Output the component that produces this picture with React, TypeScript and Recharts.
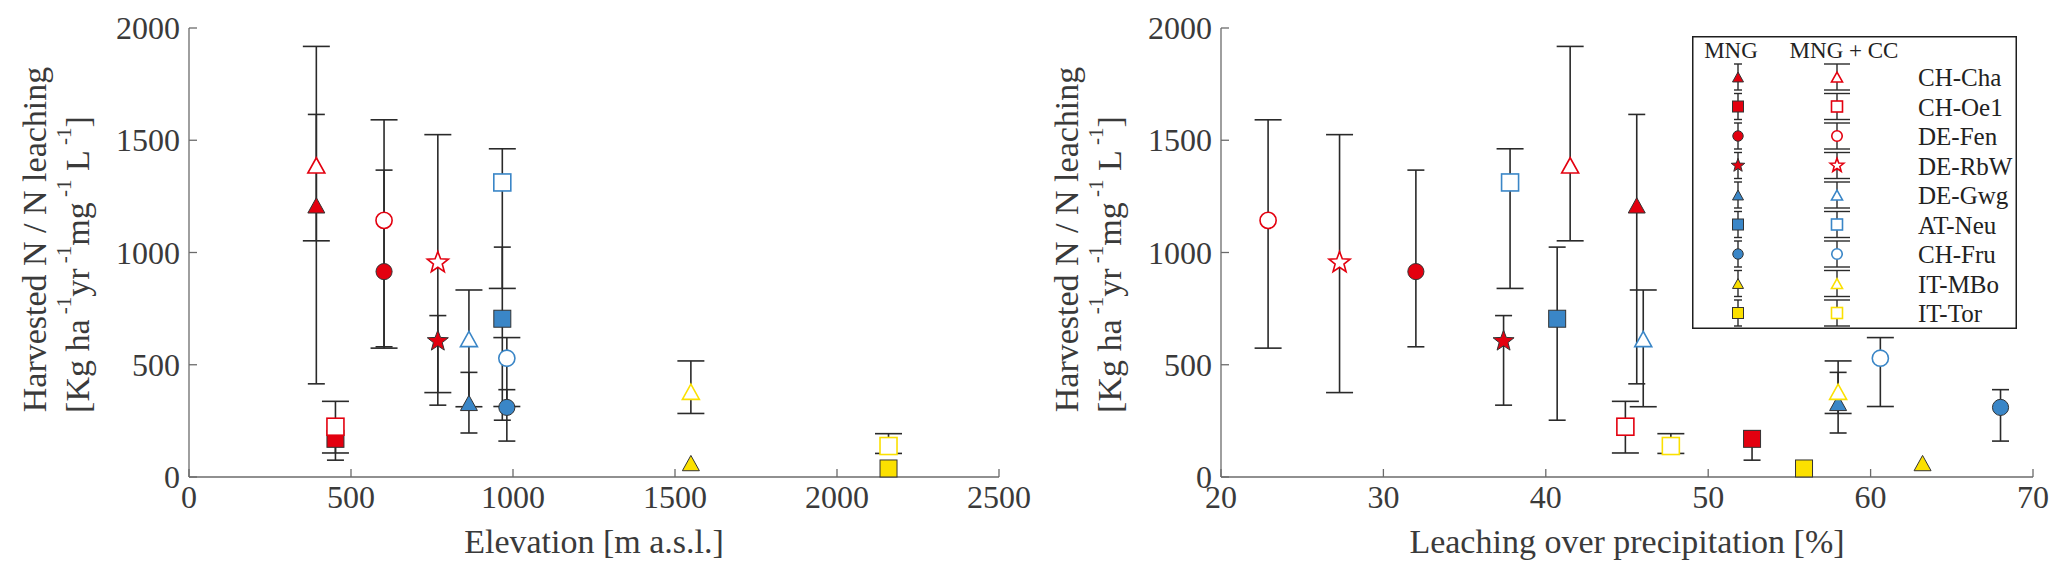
import React from 'react';
import { ScatterChart, Scatter, XAxis, YAxis, ErrorBar, Label, Legend } from 'recharts';

// sites, in legend order
const sites = ['CH-Cha', 'CH-Oe1', 'DE-Fen', 'DE-RbW', 'DE-Gwg', 'AT-Neu', 'CH-Fru', 'IT-MBo', 'IT-Tor'];

// elevation [m a.s.l.]
const elevation = [393, 452, 602, 768, 864, 967, 981, 1549, 2159];

// leaching over precipitation [%]
const leachMng = [45.6, 52.7, 32.0, 37.4, 58.0, 40.7, 68.0, 63.2, 55.9];
const leachCc = [41.5, 44.9, 22.9, 27.3, 46.0, 37.8, 60.6, 58.0, 47.7];

// harvested N / N leaching, with error bar ends
const ratioMng = [1210, 170, 915, 605, 330, 705, 310, 62, 38];
const ratioMngLow = [415, 75, 580, 320, 196, 253, 160, null, null];
const ratioMngHigh = [1615, 205, 1367, 719, 466, 1024, 389, null, null];
const ratioCc = [1388, 224, 1143, 955, 615, 1312, 529, 380, 138];
const ratioCcLow = [1052, 107, 574, 376, 313, 840, 314, 283, 105];
const ratioCcHigh = [1918, 337, 1591, 1525, 833, 1462, 621, 517, 193];

const elevationTicks = [0, 500, 1000, 1500, 2000, 2500];
const leachTicks = [20, 30, 40, 50, 60, 70];
const ratioTicks = [0, 500, 1000, 1500, 2000];

const RED = '#e3000f';
const BLUE = '#3a86c7';
const YELLOW = '#fbe000';
const siteShape = ['triangle', 'square', 'circle', 'star', 'triangle', 'square', 'circle', 'triangle', 'square'];
const siteColor = [RED, RED, RED, RED, BLUE, BLUE, BLUE, YELLOW, YELLOW];

const FONT = '"Liberation Serif", "Times New Roman", serif';
const TEXT = '#3a3a3a';
const AXIS = '#6b6b6b';
const BAR = '#2a2a2a';

const toPoints = (xs: number[], ys: number[], lo: (number | null)[], hi: (number | null)[]) =>
  sites.map((site, i) => ({
    site,
    idx: i,
    x: xs[i],
    y: ys[i],
    err: lo[i] == null ? null : [ys[i] - (lo[i] as number), (hi[i] as number) - ys[i]],
  }));

function Marker({ kind, cx, cy, r, color, filled }: any) {
  const fill = filled ? color : '#fff';
  const stroke = filled ? '#333' : color;
  const sw = filled ? 1 : 1.6;
  if (kind === 'circle') return <circle cx={cx} cy={cy} r={r * 0.95} fill={fill} stroke={stroke} strokeWidth={sw} />;
  if (kind === 'square')
    return <rect x={cx - r} y={cy - r} width={2 * r} height={2 * r} fill={fill} stroke={stroke} strokeWidth={sw} />;
  if (kind === 'triangle') {
    const h = r * 0.9;
    return (
      <path d={`M${cx},${cy - h}L${cx + r},${cy + h}L${cx - r},${cy + h}Z`} fill={fill} stroke={stroke} strokeWidth={sw} />
    );
  }
  const R = r * 1.3;
  const pts = [];
  for (let k = 0; k < 10; k++) {
    const a = ((-90 + k * 36) * Math.PI) / 180;
    const rr = k % 2 === 0 ? R : R * 0.42;
    pts.push(`${cx + rr * Math.cos(a)},${cy + rr * Math.sin(a)}`);
  }
  return <polygon points={pts.join(' ')} fill={fill} stroke={stroke} strokeWidth={sw} />;
}

const BottomTick = ({ x, y, payload }: any) => (
  <g>
    <line x1={x} y1={y} x2={x} y2={y - 8} stroke={AXIS} strokeWidth={1.3} />
    <text x={x} y={y + 31} textAnchor="middle" fontSize={32} fontFamily={FONT} fill={TEXT}>
      {payload.value}
    </text>
  </g>
);
const LeftTick = ({ x, y, payload }: any) => (
  <g>
    <line x1={x} y1={y} x2={x + 8} y2={y} stroke={AXIS} strokeWidth={1.3} />
    <text x={x - 9} y={y + 11} textAnchor="end" fontSize={32} fontFamily={FONT} fill={TEXT}>
      {payload.value}
    </text>
  </g>
);
const TopTick = ({ x, y }: any) => <line x1={x} y1={y} x2={x} y2={y + 8} stroke={AXIS} strokeWidth={1.3} />;
const RightTick = ({ x, y }: any) => <line x1={x} y1={y} x2={x - 8} y2={y} stroke={AXIS} strokeWidth={1.3} />;

const YTitle = ({ viewBox }: any) => {
  const ax = viewBox ? viewBox.x + viewBox.width : 189;
  const cy = viewBox ? viewBox.y + viewBox.height / 2 : 252;
  const x1 = ax - 155;
  const y1 = cy - 13;
  const x2 = ax - 112;
  const y2 = cy + 12;
  const sup = (s: string) => [
    <tspan key={s + 'a'} dy={-13} fontSize={21}>
      {s}
    </tspan>,
  ];
  return (
    <g fontFamily={FONT} fill={TEXT}>
      <text x={x1} y={y1} textAnchor="middle" dominantBaseline="central" fontSize={34} transform={`rotate(-90 ${x1} ${y1})`}>
        Harvested N / N leaching
      </text>
      <text x={x2} y={y2} textAnchor="middle" dominantBaseline="central" fontSize={34} transform={`rotate(-90 ${x2} ${y2})`}>
        <tspan>[Kg ha</tspan>
        <tspan dy={-13} fontSize={21}> -1</tspan>
        <tspan dy={13}>yr</tspan>
        <tspan dy={-13} fontSize={21}> -1</tspan>
        <tspan dy={13}>mg</tspan>
        <tspan dy={-13} fontSize={21}> -1</tspan>
        <tspan dy={13}> L</tspan>
        <tspan dy={-13} fontSize={21}> -1</tspan>
        <tspan dy={13}>]</tspan>
      </text>
    </g>
  );
};

const legendBar = (x: number, cy: number, half: number) => (
  <g stroke={BAR} strokeWidth={1.4}>
    <line x1={x} y1={cy - 13} x2={x} y2={cy + 13} />
    <line x1={x - half} y1={cy - 13} x2={x + half} y2={cy - 13} />
    <line x1={x - half} y1={cy + 13} x2={x + half} y2={cy + 13} />
  </g>
);

const LegendBox = () => (
  <svg width={325} height={293} style={{ display: 'block' }}>
    <rect x={0.75} y={0.75} width={323.5} height={291.5} fill="#fff" stroke="#1e1e1e" strokeWidth={1.5} />
    <g fontFamily={FONT} fill="#222">
      <text x={39} y={22} fontSize={23} textAnchor="middle">
        MNG
      </text>
      <text x={152} y={22} fontSize={23} textAnchor="middle">
        MNG + CC
      </text>
      {sites.map((s, i) => {
        const cy = 41 + i * 29.5;
        return (
          <g key={s}>
            {legendBar(46, cy, 4)}
            <Marker kind={siteShape[i]} cx={46} cy={cy} r={5.5} color={siteColor[i]} filled />
            {legendBar(145, cy, 13)}
            <Marker kind={siteShape[i]} cx={145} cy={cy} r={5.5} color={siteColor[i]} filled={false} />
            <text x={226} y={cy + 9} fontSize={25}>
              {s}
            </text>
          </g>
        );
      })}
    </g>
  </svg>
);

function Panel({ width, xMng, xCc, domain, ticks, xTitle, tag, legend }: any) {
  const mng = toPoints(xMng, ratioMng, ratioMngLow, ratioMngHigh);
  const cc = toPoints(xCc, ratioCc, ratioCcLow, ratioCcHigh);
  const shapeFor = (filled: boolean) => (p: any) =>
    <Marker kind={siteShape[p.payload.idx]} cx={p.cx} cy={p.cy} r={8.5} color={siteColor[p.payload.idx]} filled={filled} />;
  const empty = () => <g />;
  return (
    <ScatterChart width={width} height={578} margin={{ top: 28, right: width - 999 - (width - 1033), bottom: 41, left: 109 }}>
      <XAxis
        type="number"
        dataKey="x"
        domain={domain}
        ticks={ticks}
        interval={0}
        height={60}
        tickSize={0}
        tickMargin={0}
        tickLine={false}
        axisLine={{ stroke: AXIS, strokeWidth: 1.3 }}
        tick={(p: any) => <BottomTick {...p} />}
      >
        <Label
          content={({ viewBox }: any) => {
            const cx = viewBox ? viewBox.x + viewBox.width / 2 : 594;
            const y = viewBox ? viewBox.y : 477;
            return (
              <text x={cx} y={y + 76} textAnchor="middle" fontSize={34} fontFamily={FONT} fill={TEXT}>
                {xTitle}
              </text>
            );
          }}
        />
      </XAxis>
      <XAxis
        xAxisId="top"
        orientation="top"
        type="number"
        domain={domain}
        ticks={ticks}
        interval={0}
        allowDataOverflow
        height={0}
        tickSize={0}
        tickMargin={0}
        tickLine={false}
        axisLine={{ stroke: AXIS, strokeWidth: 1.3 }}
        tick={(p: any) => <TopTick {...p} />}
      >
        <Label
          content={({ viewBox }: any) => {
            const x = viewBox ? viewBox.x : 189;
            const y = viewBox ? viewBox.y : 28;
            return (
              <text x={x + 11} y={y + 40} fontSize={32} fontFamily={FONT} fill="#222">
                {tag}
              </text>
            );
          }}
        />
      </XAxis>
      <YAxis
        type="number"
        dataKey="y"
        domain={[0, 2000]}
        ticks={ratioTicks}
        interval={0}
        width={80}
        tickSize={0}
        tickMargin={0}
        tickLine={false}
        axisLine={{ stroke: AXIS, strokeWidth: 1.3 }}
        tick={(p: any) => <LeftTick {...p} />}
      >
        <Label content={(p: any) => <YTitle viewBox={p.viewBox} />} />
      </YAxis>
      <YAxis
        yAxisId="right"
        orientation="right"
        type="number"
        domain={[0, 2000]}
        ticks={ratioTicks}
        interval={0}
        allowDataOverflow
        width={0}
        tickSize={0}
        tickMargin={0}
        tickLine={false}
        axisLine={{ stroke: AXIS, strokeWidth: 1.3 }}
        tick={(p: any) => <RightTick {...p} />}
      />
      <Scatter data={mng} dataKey="y" shape={empty} legendType="none" isAnimationActive={false}>
        <ErrorBar dataKey="err" direction="y" width={8.5} stroke={BAR} strokeWidth={1.6} isAnimationActive={false} />
      </Scatter>
      <Scatter data={cc} dataKey="y" shape={empty} legendType="none" isAnimationActive={false}>
        <ErrorBar dataKey="err" direction="y" width={13.5} stroke={BAR} strokeWidth={1.6} isAnimationActive={false} />
      </Scatter>
      <Scatter name="MNG" data={mng} dataKey="y" shape={shapeFor(true)} isAnimationActive={false} />
      <Scatter name="MNG + CC" data={cc} dataKey="y" shape={shapeFor(false)} isAnimationActive={false} />
      {legend && (
        <Legend
          layout="horizontal"
          verticalAlign="middle"
          align="center"
          content={() => <LegendBox />}
          wrapperStyle={{ left: 660, top: 36, width: 325, height: 293 }}
        />
      )}
    </ScatterChart>
  );
}

export default function App() {
  return (
    <div style={{ position: 'relative', width: 2067, height: 578, background: '#fff' }}>
      <style>{'body{margin:0;background:#fff}'}</style>
      <div style={{ position: 'absolute', left: 0, top: 0 }}>
        <Panel
          width={1033}
          xMng={elevation}
          xCc={elevation}
          domain={[0, 2500]}
          ticks={elevationTicks}
          xTitle="Elevation [m a.s.l.]"
          tag="(a)"
        />
      </div>
      <div style={{ position: 'absolute', left: 1032, top: 0 }}>
        <Panel
          width={1035}
          xMng={leachMng}
          xCc={leachCc}
          domain={[20, 70]}
          ticks={leachTicks}
          xTitle="Leaching over precipitation [%]"
          tag="(b)"
          legend
        />
      </div>
    </div>
  );
}
